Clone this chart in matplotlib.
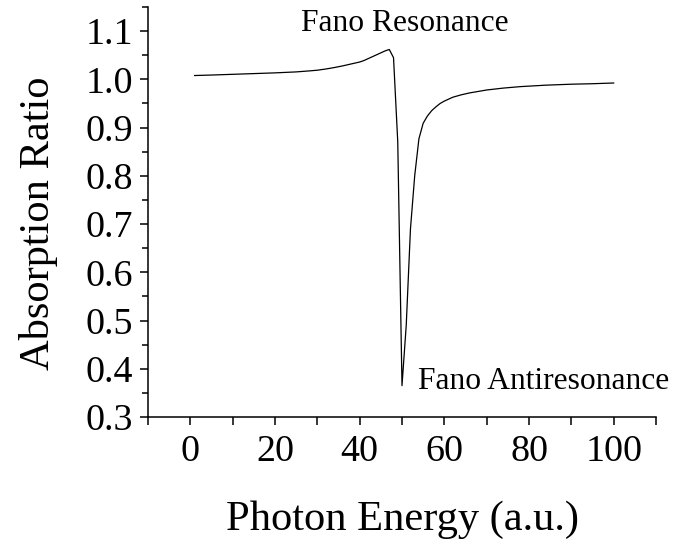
import matplotlib
matplotlib.use('Agg')
import matplotlib.pyplot as plt
from matplotlib.ticker import MultipleLocator

plt.rcParams['font.family'] = ['Liberation Serif', 'DejaVu Serif']

# data
photon_energy = [1, 5, 10, 15, 20, 25, 28, 30, 32, 34, 36, 38, 40, 41, 42, 43,
                 44, 45, 46, 47, 48, 49, 50, 51, 52, 53, 54, 55, 56, 57, 58,
                 59, 60, 62, 64, 66, 68, 70, 74, 78, 84, 90, 95, 100]
absorption = [1.008, 1.009, 1.0105, 1.012, 1.0135, 1.0155, 1.0175, 1.019,
              1.0215, 1.0245, 1.028, 1.032, 1.036, 1.039, 1.043, 1.047,
              1.051, 1.055, 1.059, 1.062, 1.045, 0.87, 0.365, 0.49, 0.69,
              0.80, 0.877, 0.909, 0.924, 0.935, 0.943, 0.950, 0.955, 0.963,
              0.968, 0.972, 0.975, 0.978, 0.982, 0.985, 0.988, 0.990, 0.991,
              0.9925]

x_label = 'Photon Energy (a.u.)'
y_label = 'Absorption Ratio'
peak_note = 'Fano Resonance'
dip_note = 'Fano Antiresonance'

fig = plt.figure(figsize=(6.81, 5.41), dpi=100)
ax = fig.add_axes([0.2173, 0.2292, 0.746, 0.7578])

ax.plot(photon_energy, absorption, color='black', lw=0.9)

ax.set_xlim(-10, 110)
ax.set_ylim(0.3, 1.15)
ax.xaxis.set_major_locator(MultipleLocator(20))
ax.xaxis.set_minor_locator(MultipleLocator(10))
ax.yaxis.set_major_locator(MultipleLocator(0.1))
ax.yaxis.set_minor_locator(MultipleLocator(0.05))
ax.yaxis.set_major_formatter(lambda v, p: f'{v:.1f}')

for side in ['top', 'right']:
    ax.spines[side].set_visible(False)
for side in ['left', 'bottom']:
    ax.spines[side].set_linewidth(1.1)

ax.tick_params(axis='both', which='both', direction='out', width=1.1,
               labelsize=27.4)
ax.tick_params(axis='x', which='both', length=5.5, pad=7)
ax.tick_params(axis='y', which='major', length=6, pad=5)
ax.tick_params(axis='y', which='minor', length=4.5)

ax.set_xlabel(x_label, fontsize=30.6)
ax.set_ylabel(y_label, fontsize=30.6)
ax.xaxis.set_label_coords(0.501, -0.203)
ax.yaxis.set_label_coords(-0.177, 0.473)

ax.text(50.7, 1.10, peak_note, fontsize=22.7, ha='center', va='baseline')
ax.text(53.8, 0.358, dip_note, fontsize=22.7, ha='left', va='baseline')

fig.savefig('out.png', dpi=100)
